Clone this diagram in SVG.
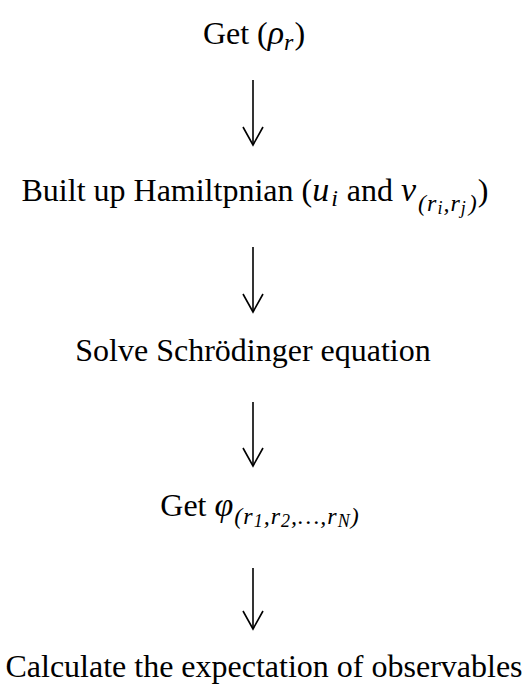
<svg xmlns="http://www.w3.org/2000/svg" width="528" height="686" viewBox="0 0 528 686">
<defs>
<style>
.t{font-family:"Liberation Serif","Times New Roman",serif;font-size:32px;fill:#000;text-anchor:middle}
.m{font-style:italic;font-size:34px}
.s{font-size:24px;font-style:italic;letter-spacing:1px}
.ss{font-size:18px;font-style:italic;letter-spacing:1px}
.c line,.c polyline{stroke:#000;stroke-width:1.6;fill:none}
</style>
</defs>
<rect width="528" height="686" fill="#fff"/>
<g id="n1"><text class="t" x="254" y="44">Get (<tspan class="m">ρ</tspan><tspan class="s" dy="6">r</tspan><tspan dy="-6">)</tspan></text></g>
<g id="n2"><text class="t" x="255" y="201">Built up Hamiltpnian (<tspan class="m">u</tspan><tspan class="s" dy="5" dx="2">i</tspan><tspan dy="-5"> and </tspan><tspan class="m">v</tspan><tspan class="s" dy="10" dx="2">(r</tspan><tspan class="ss" dy="3">i</tspan><tspan class="s" dy="-3">,r</tspan><tspan class="ss" dy="3">j</tspan><tspan class="s" dy="-3" dx="2">)</tspan><tspan dy="-10">)</tspan></text></g>
<g id="n3"><text class="t" x="253" y="361">Solve Schrödinger equation</text></g>
<g id="n4"><text class="t" x="260" y="516">Get <tspan class="m">φ</tspan><tspan class="s" dy="8" dx="1">(r</tspan><tspan class="ss" dy="3">1</tspan><tspan class="s" dy="-3">,r</tspan><tspan class="ss" dy="3">2</tspan><tspan class="s" dy="-3">,…,r</tspan><tspan class="ss" dy="3">N</tspan><tspan class="s" dy="-3">)</tspan></text></g>
<g id="n5"><text class="t" x="264" y="677">Calculate the expectation of observables</text></g>
<g class="c" id="connectors">
<line x1="253" y1="80" x2="253" y2="145"/><polyline points="243,127 253,145 263,127"/>
<line x1="253" y1="247" x2="253" y2="312"/><polyline points="243,294 253,312 263,294"/>
<line x1="253" y1="402" x2="253" y2="466"/><polyline points="243,448 253,466 263,448"/>
<line x1="253" y1="568" x2="253" y2="629"/><polyline points="243,611 253,629 263,611"/>
</g>
</svg>
